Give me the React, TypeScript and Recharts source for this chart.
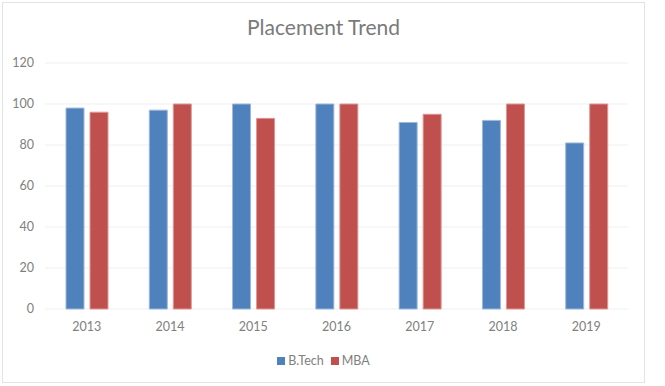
import React from 'react';
import { BarChart, Bar, XAxis, YAxis, CartesianGrid, Legend } from 'recharts';

const years = ['2013', '2014', '2015', '2016', '2017', '2018', '2019'];
const btech = [98, 97, 100, 100, 91, 92, 81];
const mba = [96, 100, 93, 100, 95, 100, 100];
const yTicks = [0, 20, 40, 60, 80, 100, 120];

const data = years.map((y, i) => ({ year: y, btech: btech[i], mba: mba[i] }));

const FONT = 'Lato, "Open Sans", sans-serif';
const TEXT = '#808080';

const LegendContent = (props: any) => {
  const items = props.payload || [];
  return (
    <div style={{ display: 'flex', justifyContent: 'center', alignItems: 'center', fontFamily: FONT, fontSize: 12.5, color: TEXT, lineHeight: '16px' }}>
      {items.map((it: any, i: number) => (
        <div key={i} style={{ display: 'flex', alignItems: 'center', marginRight: i < items.length - 1 ? 7 : 0 }}>
          <span style={{ display: 'inline-block', width: 8, height: 8, background: it.color, marginRight: 3 }} />
          <span>{it.value}</span>
        </div>
      ))}
    </div>
  );
};

export default function App() {
  return (
    <div style={{ position: 'absolute', left: 0, top: 0, width: 665, height: 386, background: '#fff' }}>
      <div style={{ position: 'absolute', left: 2, top: 2, width: 643, height: 381, border: '1px solid #e3e3e3', boxSizing: 'border-box' }} />
      <div style={{ position: 'absolute', left: 2, width: 643, top: 12, textAlign: 'center', fontFamily: FONT, fontSize: 21, color: '#7a7a7a', lineHeight: '30px' }}>
        Placement Trend
      </div>
      <div style={{ position: 'absolute', left: 0, top: 0 }}>
        <BarChart width={665} height={386} data={data} margin={{ top: 63, right: 37, bottom: 47, left: 0 }} barSize={18} barGap={6}>
          <CartesianGrid horizontal vertical={false} stroke="#efefef" />
          <XAxis dataKey="year" height={30} axisLine={false} tickLine={false} tickSize={0} tickMargin={13}
            tick={{ fill: TEXT, fontSize: 12.5, fontFamily: FONT }} />
          <YAxis width={45} domain={[0, 120]} ticks={yTicks} axisLine={false} tickLine={false} tickSize={0} tickMargin={11}
            tick={{ fill: TEXT, fontSize: 12.5, fontFamily: FONT }} />
          <Legend verticalAlign="middle" align="center" layout="horizontal" content={<LegendContent />}
            wrapperStyle={{ position: 'absolute', left: 2, width: 643, top: 353, bottom: 'auto' }} />
          <Bar dataKey="btech" name="B.Tech" fill="#4F81BD" stroke="#9db8da" strokeWidth={1} isAnimationActive={false} />
          <Bar dataKey="mba" name="MBA" fill="#C0504D" stroke="#dc9896" strokeWidth={1} isAnimationActive={false} />
        </BarChart>
      </div>
    </div>
  );
}
